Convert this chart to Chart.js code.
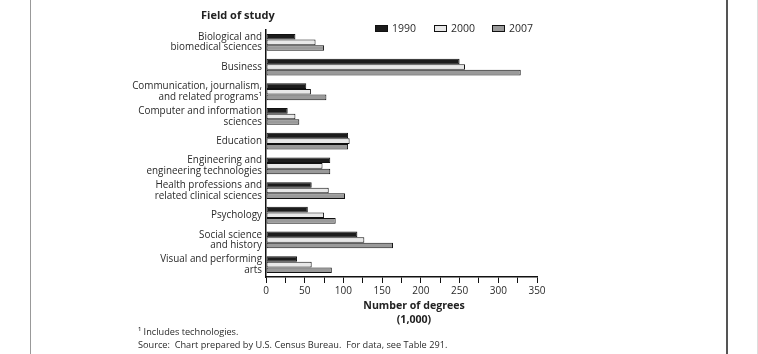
<!DOCTYPE html>
<html>
<head>
<meta charset="utf-8">
<script src="https://cdn.jsdelivr.net/npm/chart.js@4"></script>
<style>
  body { margin: 0; background: #fff; font-family: "Open Sans", sans-serif; color: #2a2a2a; }
  #wrap { position: relative; width: 758px; height: 354px; overflow: hidden; }
  canvas { position: absolute; left: 0; top: 0; }
  .txt { position: absolute; white-space: nowrap; line-height: 1; }
  .frame { position: absolute; top: 0; height: 354px; }
  .legend-item { position: absolute; top: 21px; font-size: 10.5px; display: flex; align-items: center; }
  .legend-item span.box { display: inline-block; width: 11px; height: 5px; border: 1px solid #111; margin-right: 4px; }
</style>
</head>
<body>
<div id="wrap">
  <div class="frame" style="left:30px;width:1px;background:#999;"></div>
  <div class="frame" style="left:726px;width:2px;background:#555;"></div>
  <div class="frame" style="left:757px;width:1px;background:#ddd;"></div>
  <canvas id="chart" width="758" height="354"></canvas>
  <div class="txt" style="left:201px;top:9px;font-size:11px;font-weight:bold;color:#222;">Field of study</div>
  <div id="legend"></div>
  <div class="txt" style="left:340px;top:299px;width:148px;text-align:center;font-size:10.6px;font-weight:bold;color:#222;line-height:13.5px;">Number of degrees<br>(1,000)</div>
  <div class="txt" style="left:138px;top:327px;font-size:9.2px;">¹ Includes technologies.</div>
  <div class="txt" style="left:138px;top:340px;font-size:9.2px;">Source:&nbsp; Chart prepared by U.S. Census Bureau.&nbsp; For data, see Table 291.</div>
</div>
<script>
// data (thousands of degrees)
const categories = [
  ["Biological and", "biomedical sciences"],
  "Business",
  ["Communication, journalism,", "and related programs¹"],
  ["Computer and information", "sciences"],
  "Education",
  ["Engineering and", "engineering technologies"],
  ["Health professions and", "related clinical sciences"],
  "Psychology",
  ["Social science", "and history"],
  ["Visual and performing", "arts"]
];
const years = ["1990", "2000", "2007"];
const values1990 = [38, 250, 52, 28, 106, 83, 59, 54, 118, 40];
const values2000 = [64, 257, 58, 38, 108, 73, 81, 75, 127, 59];
const values2007 = [75, 329, 78, 43, 106, 83, 102, 90, 164, 85];
const xMax = 350;
const xStep = 25;

const fills = ["#1c1c1c", "#e8e8e8", "#9a9a9a"];
const series = [values1990, values2000, values2007];

const datasets = series.map((vals, i) => ({
  label: years[i],
  data: vals,
  backgroundColor: fills[i],
  borderColor: "#111",
  borderWidth: 1,
  borderSkipped: false,
  categoryPercentage: 0.68,
  barPercentage: 1.0
}));

// legend as html
const legendPos = [375, 434, 492];
const legend = document.getElementById("legend");
datasets.forEach((d, i) => {
  const el = document.createElement("div");
  el.className = "legend-item";
  el.style.left = legendPos[i] + "px";
  el.innerHTML = `<span class="box" style="background:${d.backgroundColor}"></span>${d.label}`;
  legend.appendChild(el);
});

new Chart(document.getElementById("chart"), {
  type: "bar",
  data: { labels: categories, datasets },
  options: {
    indexAxis: "y",
    responsive: false,
    animation: false,
    devicePixelRatio: 1,
    layout: { padding: { left: 0, top: 30, right: 221, bottom: 0 } },
    plugins: { legend: { display: false }, tooltip: { enabled: false } },
    scales: {
      x: {
        min: 0,
        max: xMax,
        ticks: {
          stepSize: xStep,
          autoSkip: false,
          maxRotation: 0,
          color: "#2a2a2a",
          font: { family: "Open Sans", size: 10 },
          padding: 2,
          callback: v => (v % 50 === 0 ? v : "")
        },
        grid: { display: true, drawOnChartArea: false, drawTicks: true, tickLength: 6, color: "#111", lineWidth: 1 },
        border: { display: true, color: "#111", width: 1.5 },
        afterFit: s => { s.height = 77; }
      },
      y: {
        ticks: { color: "#2a2a2a", font: { family: "Open Sans", size: 9.9, lineHeight: "10.5px" }, padding: 4, autoSkip: false },
        grid: { display: false, drawTicks: false },
        border: { display: true, color: "#111", width: 1.5 },
        afterFit: s => { s.width = 266; }
      }
    }
  }
});
</script>
</body>
</html>
